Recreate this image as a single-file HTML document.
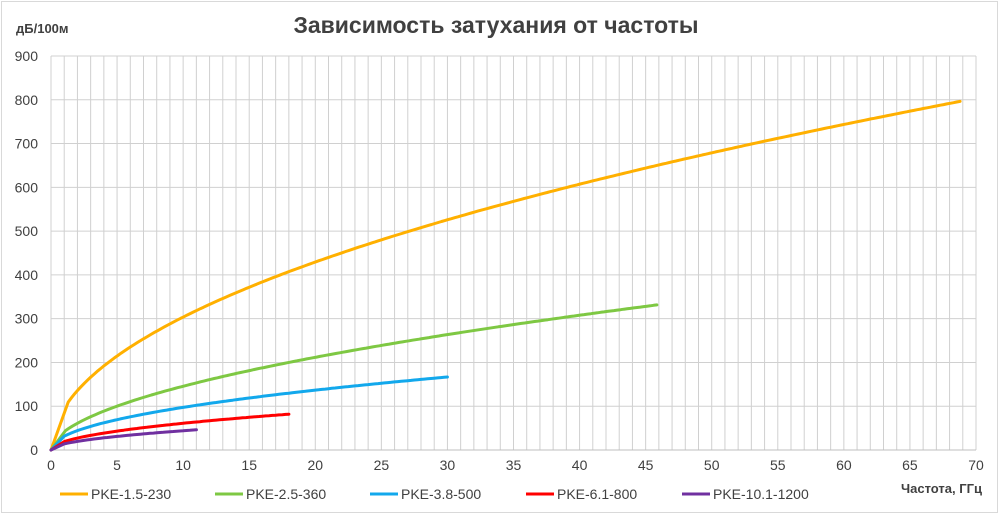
<!DOCTYPE html>
<html><head><meta charset="utf-8"><style>
html,body{margin:0;padding:0;background:#fff;}
svg{display:block;font-family:"Liberation Sans","DejaVu Sans",sans-serif;}
</style></head><body>
<svg id="c" width="1000" height="515" viewBox="0 0 1000 515">
<rect x="1.5" y="1.5" width="996" height="511" fill="#fff" stroke="#d9d9d9" stroke-width="1"/>
<g id="grid"></g>
<text x="496" y="33" text-anchor="middle" font-size="23" font-weight="bold" fill="#404040">Зависимость затухания от частоты</text>
<text x="16" y="33" font-size="13" font-weight="bold" fill="#404040">дБ/100м</text>
<text x="901" y="493" font-size="13" font-weight="bold" fill="#404040">Частота, ГГц</text>
<g id="labels" font-size="14" fill="#404040"></g>
<g id="series" fill="none" stroke-width="3" stroke-linecap="round" stroke-linejoin="round"></g>
<g font-size="14" fill="#404040">
<line x1="60" y1="494" x2="88" y2="494" stroke="#ffb000" stroke-width="3"/><text x="91" y="499">PKE-1.5-230</text>
<line x1="215" y1="494" x2="243" y2="494" stroke="#7ec843" stroke-width="3"/><text x="246" y="499">PKE-2.5-360</text>
<line x1="370" y1="494" x2="398" y2="494" stroke="#12a8ec" stroke-width="3"/><text x="401" y="499">PKE-3.8-500</text>
<line x1="526" y1="494" x2="554" y2="494" stroke="#ff0000" stroke-width="3"/><text x="557" y="499">PKE-6.1-800</text>
<line x1="682" y1="494" x2="710" y2="494" stroke="#7030a0" stroke-width="3"/><text x="713" y="499">PKE-10.1-1200</text>
</g>
</svg>
<script>
var X0=51,X1=976,Y0=450,Y1=56;
function X(f){return X0+(X1-X0)*f/70;}
function Y(v){return Y0-(Y0-Y1)*v/900;}
var g=document.getElementById('grid'),s="";
for(var i=0;i<=70;i++){s+='<line x1="'+X(i)+'" y1="'+Y1+'" x2="'+X(i)+'" y2="'+Y0+'" stroke="#d0d0d0" stroke-width="1"/>';}
for(var v=0;v<=900;v+=100){s+='<line x1="'+X0+'" y1="'+Y(v)+'" x2="'+X1+'" y2="'+Y(v)+'" stroke="#d0d0d0" stroke-width="1"/>';}
s+='<line x1="'+X0+'" y1="'+Y0+'" x2="'+X1+'" y2="'+Y0+'" stroke="#bfbfbf" stroke-width="1"/>';
g.innerHTML=s;
var l="";
for(var v=0;v<=900;v+=100){l+='<text x="38" y="'+(Y(v)+5)+'" text-anchor="end">'+v+'</text>';}
for(var f=0;f<=70;f+=5){l+='<text x="'+X(f)+'" y="470" text-anchor="middle">'+f+'</text>';}
document.getElementById('labels').innerHTML=l;
var ser=[["#ffb000",96,0.5,69,1.3],["#7ec843",42,0.54,46,1.1],["#12a8ec",31.5,0.49,30,1.0],["#ff0000",19.3,0.5,18,1.0],["#7030a0",13.9,0.5,11,1.0]];
var p="";
ser.forEach(function(a){
 var d="M"+X(0)+","+Y(0);
 for(var f=a[4];f<=a[3]+1e-9;f+=0.25){d+=" L"+X(f).toFixed(1)+","+Y(a[1]*Math.pow(f,a[2])).toFixed(1);}
 p+='<path d="'+d+'" stroke="'+a[0]+'"/>';
});
document.getElementById('series').innerHTML=p;
</script>
</body></html>
